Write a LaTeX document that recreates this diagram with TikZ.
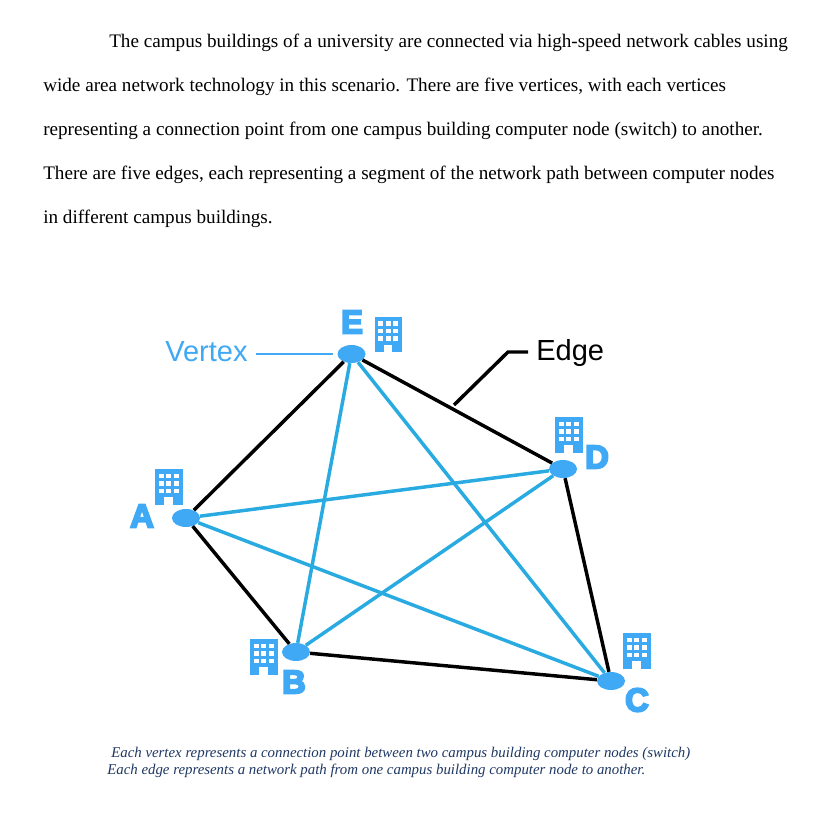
\documentclass[tikz,border=0pt]{standalone}
\usepackage{fontspec}
\setmainfont{Liberation Serif}
\newfontfamily\labsans{Liberation Sans}
\newfontfamily\labbold[UprightFont=* Bold,UprightFeatures={FakeBold=6}]{Liberation Sans}
\usetikzlibrary{shapes.geometric}
\definecolor{vblue}{HTML}{3FA9F5}
\definecolor{eblue}{HTML}{29ABE2}
\definecolor{capblue}{HTML}{1F3864}
\tikzset{
  bodyline/.style={anchor=base west,inner sep=0pt,font=\fontsize{14.31bp}{16bp}\selectfont,text=black},
  capline/.style={anchor=base west,inner sep=0pt,font=\fontsize{11.1bp}{14bp}\selectfont\itshape,text=capblue},
  vertexnode/.style={ellipse,fill=vblue,minimum width=21pt,minimum height=13.5pt,inner sep=0pt},
  vname/.style={inner sep=0pt,text=vblue,font=\fontsize{24.5bp}{26bp}\selectfont\labbold},
  black edge/.style={draw=black,line width=2.6pt},
  blue edge/.style={draw=eblue,line width=2.6pt},
  pics/building/.style={code={
    \fill[vblue] (0,0) rectangle (27.5,35.5);
    \fill[white] (9.3,28) rectangle (17.9,36);
    \foreach \i in {0,1,2}{\foreach \j in {0,1,2}{
      \fill[white] ({3.7+7.6*\i},{4.7+7.5*\j}) rectangle ++(5,4.6);
    }}
  }}
}
\begin{document}
\begin{tikzpicture}[x=0.75pt,y=-0.75pt]
\useasboundingbox (0,0) rectangle (830,838);
\fill[white] (0,0) rectangle (830,838);
\node[bodyline] (t1) at (109,48) {The campus buildings of a university are connected via high-speed network cables using};
\node[bodyline] (t2) at (43,92) {wide area network technology in this scenario. There are five vertices, with each vertices};
\node[bodyline] (t3) at (43,136) {representing a connection point from one campus building computer node (switch) to another.};
\node[bodyline] (t4) at (43,180) {There are five edges, each representing a segment of the network path between computer nodes};
\node[bodyline] (t5) at (43,223) {in different campus buildings.};
\node[vertexnode] (E) at (351.5,354) {};
\node[vertexnode] (A) at (186,518) {};
\node[vertexnode] (D) at (563,469) {};
\node[vertexnode] (B) at (296,652) {};
\node[vertexnode] (C) at (611,681) {};
\pic at (374.5,316.5) {building};
\pic at (155,469) {building};
\pic at (555,417) {building};
\pic at (250,639) {building};
\pic at (623,633) {building};
\node[vname] (nE) at (352,322) {E};
\node[vname] (nA) at (142,516) {A};
\node[vname] (nD) at (597,457) {D};
\node[vname] (nB) at (294,682) {B};
\node[vname] (nC) at (637,700) {C};
\draw[black edge] (A) -- (E);
\draw[black edge] (E) -- (D);
\draw[black edge] (D) -- (C);
\draw[black edge] (C) -- (B);
\draw[black edge] (B) -- (A);
\draw[blue edge] (E) -- (B);
\draw[blue edge] (E) -- (C);
\draw[blue edge] (A) -- (D);
\draw[blue edge] (A) -- (C);
\draw[blue edge] (B) -- (D);
\node[anchor=base west,inner sep=0pt,text=vblue,font=\fontsize{21.7bp}{24bp}\selectfont\labsans] (vlabel) at (165,361) {Vertex};
\node[anchor=base west,inner sep=0pt,text=black,font=\fontsize{21.7bp}{24bp}\selectfont\labsans] (elabel) at (536,360) {Edge};
\draw[draw=vblue,line width=1.9pt,shorten >=3pt,shorten <=6pt] (vlabel.east|-E) -- (E);
\coordinate (edgepoint) at (454,405);
\coordinate (edgeknee) at (508,352);
\draw[draw=black,line width=2.6pt,shorten <=6pt] (elabel.west|-edgeknee) -- (edgeknee) -- (edgepoint);
\node[capline] (c1) at (111,757) {Each vertex represents a connection point between two campus building computer nodes (switch)};
\node[capline] (c2) at (107,774) {Each edge represents a network path from one campus building computer node to another.};
\end{tikzpicture}
\end{document}
